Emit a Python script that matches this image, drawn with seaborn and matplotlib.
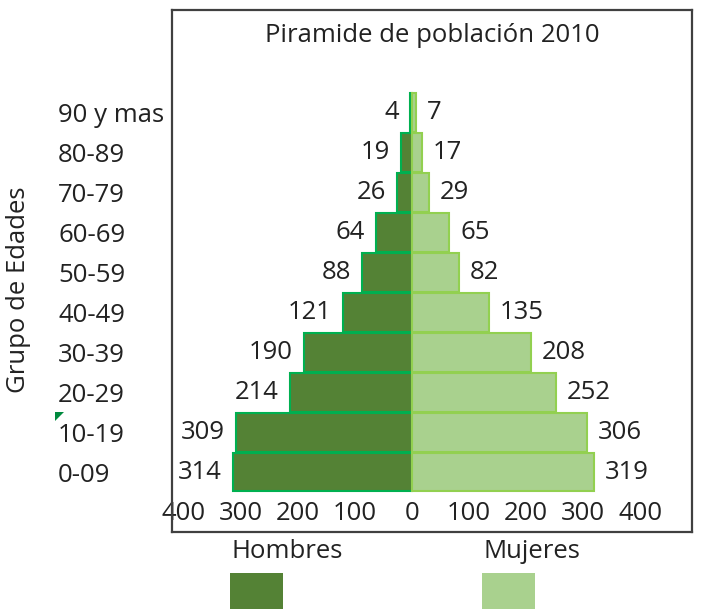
import matplotlib
matplotlib.use("Agg")
import matplotlib.pyplot as plt
import seaborn as sns
import pandas as pd
from matplotlib.patches import Rectangle, Polygon

grupos = ["90 y mas", "80-89", "70-79", "60-69", "50-59", "40-49",
          "30-39", "20-29", "10-19", "0-09"]
hombres = [4, 19, 26, 64, 88, 121, 190, 214, 309, 314]
mujeres = [7, 17, 29, 65, 82, 135, 208, 252, 306, 319]
xticks_vals = [-400, -300, -200, -100, 0, 100, 200, 300, 400]
titulo = "Piramide de población 2010"

sns.set_theme(style="white")
plt.rcParams['font.family'] = ['Open Sans', 'DejaVu Sans']
FS = 18.5
TXT = "#222222"

df = pd.DataFrame({"grupo": grupos,
                   "hombres": [-v for v in hombres],
                   "mujeres": mujeres})

fig = plt.figure(figsize=(7.08, 6.09), dpi=100)
ax = fig.add_axes([172/708, 1-532/609, 520/708, 522/609])

sns.barplot(data=df, y="grupo", x="hombres", order=grupos, orient="h",
            color="#548235", saturation=1, width=0.97,
            edgecolor="#00B050", linewidth=1.5, ax=ax)
sns.barplot(data=df, y="grupo", x="mujeres", order=grupos, orient="h",
            color="#A9D18E", saturation=1, width=0.97,
            edgecolor="#92D050", linewidth=1.5, ax=ax)

c_h, c_m = ax.containers[0], ax.containers[1]
ax.bar_label(c_h, labels=[str(v) for v in hombres], padding=8,
             fontsize=FS, color=TXT)
ax.bar_label(c_m, labels=[str(v) for v in mujeres], padding=8,
             fontsize=FS, color=TXT)

ax.set_xlim(-421, 491)
ax.set_ylim(10.5, -2.575)

ax.set_xticks(xticks_vals)
ax.set_xticklabels([str(abs(v)) for v in xticks_vals], fontsize=FS, color=TXT)
ax.tick_params(axis="x", length=0, pad=-22)

ax.set_yticks(range(len(grupos)))
ax.set_yticklabels(grupos, fontsize=FS, color=TXT)
ax.tick_params(axis="y", length=0, pad=82)
for lab in ax.get_yticklabels():
    lab.set_horizontalalignment("left")

ax.set_xlabel("")
ax.set_ylabel("Grupo de Edades", fontsize=FS, color=TXT)
ax.yaxis.set_label_coords(-0.271, 0.464)

ax.text(0.5, 0.952, titulo, transform=ax.transAxes, ha="center", va="center",
        fontsize=FS, color=TXT)

for s in ax.spines.values():
    s.set_visible(True)
    s.set_color("#404040")
    s.set_linewidth(1.6)

# small comment marker seen in the reference
fig.add_artist(Polygon([(55/708, 1-412/609), (64/708, 1-412/609),
                        (55/708, 1-421/609)], closed=True,
                       transform=fig.transFigure, facecolor="#008A3E",
                       edgecolor="none"))

# legend: labels above colour squares
leg_items = [("Hombres", "#548235", 230), ("Mujeres", "#A9D18E", 482)]
for lab, col, xpx in leg_items:
    fig.text((xpx + 2)/708, 1-552/609, lab, ha="left", va="center",
             fontsize=FS, color=TXT)
    fig.add_artist(Rectangle((xpx/708, 0), 53/708, (609-573)/609,
                             transform=fig.transFigure, facecolor=col,
                             edgecolor="none"))

fig.savefig("out.png", dpi=100)
